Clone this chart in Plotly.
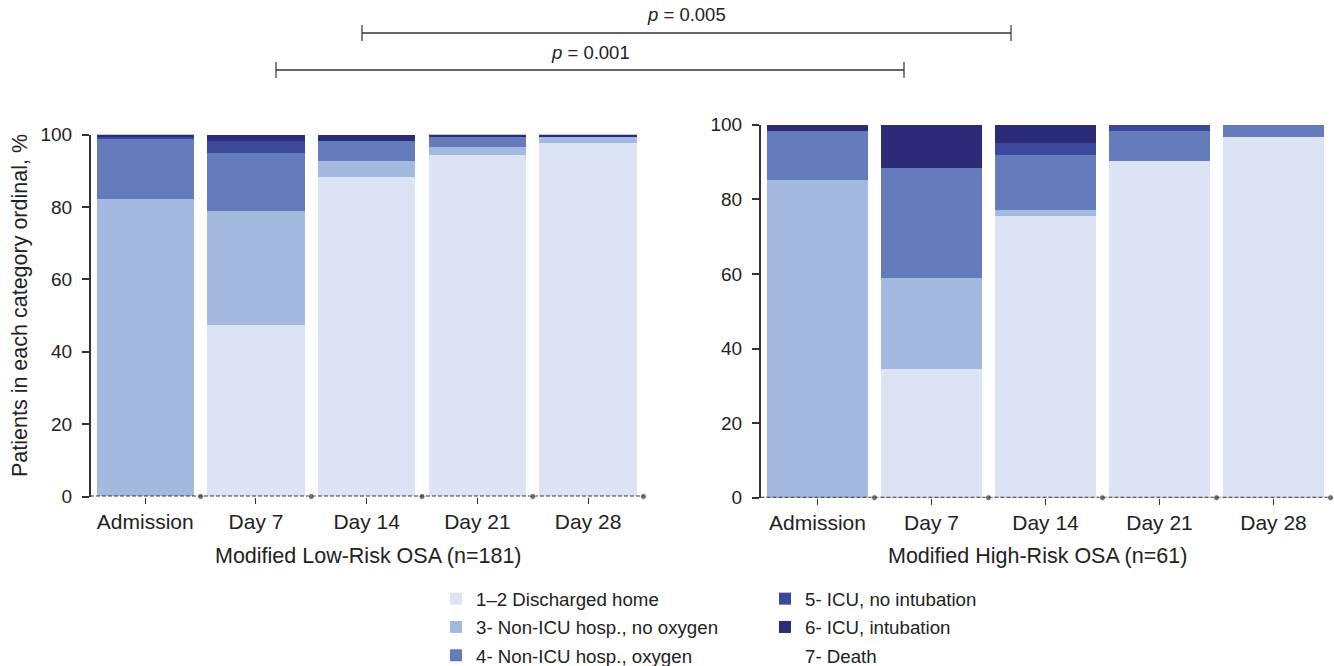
import plotly.graph_objects as go

# ---------------- data ----------------
categories = ["Admission", "Day 7", "Day 14", "Day 21", "Day 28"]
series_names = [
    "1–2 Discharged home",
    "3- Non-ICU hosp., no oxygen",
    "4- Non-ICU hosp., oxygen",
    "5- ICU, no intubation",
    "6- ICU, intubation",
    "7- Death",
]

# Modified Low-Risk OSA (n=181), % of patients
low_discharged = [0.0, 47.5, 88.4, 94.5, 97.8]
low_no_oxygen = [82.3, 31.5, 4.4, 2.2, 1.7]
low_oxygen = [16.6, 16.0, 5.5, 2.8, 0.0]
low_icu_no_int = [0.6, 3.3, 0.0, 0.0, 0.0]
low_icu_int = [0.6, 1.7, 1.7, 0.6, 0.6]
low_death = [0.0, 0.0, 0.0, 0.0, 0.0]

# Modified High-Risk OSA (n=61), % of patients
high_discharged = [0.0, 34.4, 75.4, 90.2, 96.7]
high_no_oxygen = [85.2, 24.6, 1.6, 0.0, 0.0]
high_oxygen = [13.1, 29.5, 14.8, 8.2, 3.3]
high_icu_no_int = [0.0, 0.0, 3.3, 1.6, 0.0]
high_icu_int = [1.6, 11.5, 4.9, 0.0, 0.0]
high_death = [0.0, 0.0, 0.0, 0.0, 0.0]

y_ticks = [0, 20, 40, 60, 80, 100]
panel_titles = ["Modified Low-Risk OSA (n=181)", "Modified High-Risk OSA (n=61)"]
y_title = "Patients in each category ordinal, %"
p_labels = ["<i>p</i> = 0.005", "<i>p</i> = 0.001"]

# ---------------- styling ----------------
colors = ["#dbe3f4", "#a4b9e0", "#647cbc", "#3c489c", "#2b2b78", "rgba(0,0,0,0)"]
legend_ids = ["legend", "legend", "legend", "legend2", "legend2", "legend2"]
FONT = "Liberation Sans, Arial, sans-serif"
INK = "#222222"
AXC = "#333333"
W, H = 1334, 666


def px_x(p):
    return p / W


def px_y(p):
    return 1 - p / H


fig = go.Figure()
xpos = list(range(len(categories)))
sep_x = [-0.5] + [i + 0.5 for i in xpos]

panels = [
    ("x", "y", [low_discharged, low_no_oxygen, low_oxygen, low_icu_no_int, low_icu_int, low_death], True),
    ("x2", "y2", [high_discharged, high_no_oxygen, high_oxygen, high_icu_no_int, high_icu_int, high_death], False),
]

for xa, ya, vals, show in panels:
    for i, (name, v) in enumerate(zip(series_names, vals)):
        fig.add_trace(go.Bar(
            x=xpos, y=v, name=name,
            marker=dict(color=colors[i], line=dict(width=0)),
            xaxis=xa, yaxis=ya,
            showlegend=show, legend=legend_ids[i],
            legendgroup=name, legendrank=i,
            hoverinfo="skip",
        ))
    # death category: zero line with separators between time points
    fig.add_trace(go.Scatter(
        x=sep_x, y=[vals[5][0]] + vals[5],
        mode="lines+markers",
        line=dict(color=AXC, width=2, dash="4px,2px"),
        marker=dict(size=[0, 6, 6, 6, 6, 6], color=AXC),
        xaxis=xa, yaxis=ya, showlegend=False, cliponaxis=False,
        hoverinfo="skip",
    ))

common_x = dict(
    type="linear", tickmode="array", tickvals=xpos,
    ticktext=categories, showline=False, showgrid=False, zeroline=False,
    ticks="outside", ticklen=6, tickwidth=1.2, tickcolor=AXC,
    tickfont=dict(family=FONT, size=21, color=INK),
)
common_y = dict(
    range=[0, 100], tickvals=y_ticks, showline=True, linecolor=AXC, linewidth=1.6,
    showgrid=False, zeroline=False, ticks="outside", ticklen=7, tickwidth=1.6,
    tickcolor=AXC, tickfont=dict(family=FONT, size=19, color=INK),
    ticklabelstandoff=6,
)

legend_common = dict(
    xanchor="left", yanchor="top", y=px_y(580),
    font=dict(family=FONT, size=18.7, color=INK), bgcolor="rgba(0,0,0,0)",
    traceorder="grouped", tracegroupgap=1, itemclick=False,
)

fig.update_layout(
    width=W, height=H, autosize=False,
    margin=dict(l=0, r=0, t=0, b=0, autoexpand=False),
    paper_bgcolor="white", plot_bgcolor="white",
    barmode="stack", bargap=0.12,
    font=dict(family=FONT, color=INK),
    xaxis=dict(common_x, domain=[px_x(90.7), px_x(649)], range=[-0.493, 4.55], anchor="y"),
    yaxis=dict(common_y, domain=[px_y(496.5), px_y(134.7)], anchor="x"),
    xaxis2=dict(common_x, domain=[px_x(760.7), px_x(1332.8)], range=[-0.498, 4.52], anchor="y2"),
    yaxis2=dict(common_y, domain=[px_y(497.7), px_y(124.7)], anchor="x2"),
    legend=dict(legend_common, x=px_x(436)),
    legend2=dict(legend_common, x=px_x(765)),
)


def ann(text, x, y, size, angle=0):
    return dict(text=text, x=px_x(x), y=px_y(y), xref="paper", yref="paper",
                xanchor="center", yanchor="middle", textangle=angle, showarrow=False,
                font=dict(size=size, family=FONT, color=INK))


annotations = [
    ann(y_title, 20, 306, 21.5, -90),
    ann(panel_titles[0], 368, 556, 21.5),
    ann(panel_titles[1], 1037, 556, 21.5),
    ann(p_labels[0], 687, 15, 18.5),
    ann(p_labels[1], 590, 52, 18.5),
]
fig.update_layout(annotations=annotations)

shapes = []
for (x0, x1, yc) in [(362, 1011, 33), (276, 904, 70)]:
    shapes.append(dict(type="line", xref="paper", yref="paper",
                       x0=px_x(x0), x1=px_x(x1), y0=px_y(yc), y1=px_y(yc),
                       line=dict(color=AXC, width=1.4)))
    for xe in (x0, x1):
        shapes.append(dict(type="line", xref="paper", yref="paper",
                           x0=px_x(xe), x1=px_x(xe), y0=px_y(yc - 8), y1=px_y(yc + 8),
                           line=dict(color=AXC, width=1.2)))
fig.update_layout(shapes=shapes)

fig.write_html("out.html", config={"displayModeBar": False},
               post_script="document.body.style.margin='0';")
